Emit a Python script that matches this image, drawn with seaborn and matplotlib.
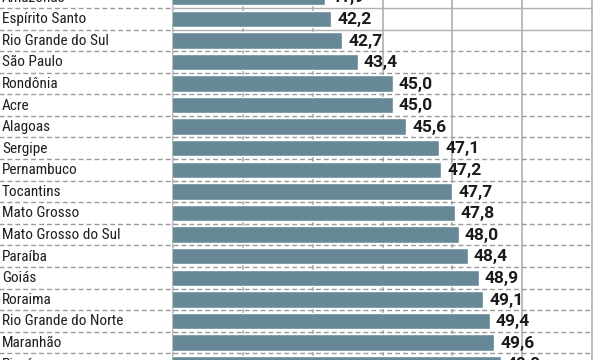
import numpy as np
import matplotlib
matplotlib.use("Agg")
import matplotlib.pyplot as plt
import seaborn as sns

estados = ["Amazonas", "Espírito Santo", "Rio Grande do Sul", "São Paulo", "Rondônia",
           "Acre", "Alagoas", "Sergipe", "Pernambuco", "Tocantins", "Mato Grosso",
           "Mato Grosso do Sul", "Paraíba", "Goiás", "Roraima", "Rio Grande do Norte",
           "Maranhão", "Piauí"]
valores = [41.9, 42.2, 42.7, 43.4, 45.0, 45.0, 45.6, 47.1, 47.2, 47.7, 47.8,
           48.0, 48.4, 48.9, 49.1, 49.4, 49.6, 49.9]

sns.set_style("white")
plt.rcParams['font.family'] = ['Roboto Condensed', 'PT Sans Narrow', 'DejaVu Sans']

bar_color = "#668897"
grid_color = "#a8a8a8"

fig = plt.figure(figsize=(6, 3.6), dpi=100)
ax = fig.add_axes([173 / 600, 0, 419 / 600, 1])

xmin, xmax = 35, 54.05

# vertical grid behind bars
for gx in np.linspace(xmin, xmax, 7):
    ax.axvline(gx, color=grid_color, lw=1.1, zorder=0, clip_on=False)

sns.barplot(x=valores, y=estados, orient='h', color=bar_color, saturation=1,
            width=0.76, ax=ax, zorder=2)

ax.set_xlim(xmin, xmax)
ax.set_ylim(16.81, 0.13)
ax.set_xlabel('')
ax.set_ylabel('')
ax.set_xticks([])
ax.set_yticks([])
for s in ax.spines.values():
    s.set_visible(False)

tr = ax.get_yaxis_transform()
# row separators
for k in range(len(estados) - 1):
    y = k + 0.5
    ax.plot([-0.42, 0], [y, y], transform=tr, color="#999999", lw=1.0,
            ls=(0, (3.5, 2.2)), clip_on=False, zorder=3)
    if k < 2:
        ax.plot([0, 1], [y, y], transform=tr, color="#b0b0b0", lw=1.0,
                clip_on=False, zorder=3)
    else:
        ax.plot([0, 1], [y, y], transform=tr, color="#999999", lw=1.0,
                ls=(0, (3.5, 2.2)), clip_on=False, zorder=3)

# state names and values
for i, (nome, v) in enumerate(zip(estados, valores)):
    ax.text(-0.408, i + 0.02, nome, transform=tr, ha='left', va='center',
            fontsize=11, color="#1e1e1e", clip_on=False)
    ax.text(v + 0.27, i + 0.03, f"{v:.1f}".replace('.', ','), ha='left', va='center',
            fontsize=12.5, fontweight='bold', color="#1a1a1a", zorder=4,
            family=['Roboto', 'DejaVu Sans'])

fig.savefig("out.png", dpi=100)
